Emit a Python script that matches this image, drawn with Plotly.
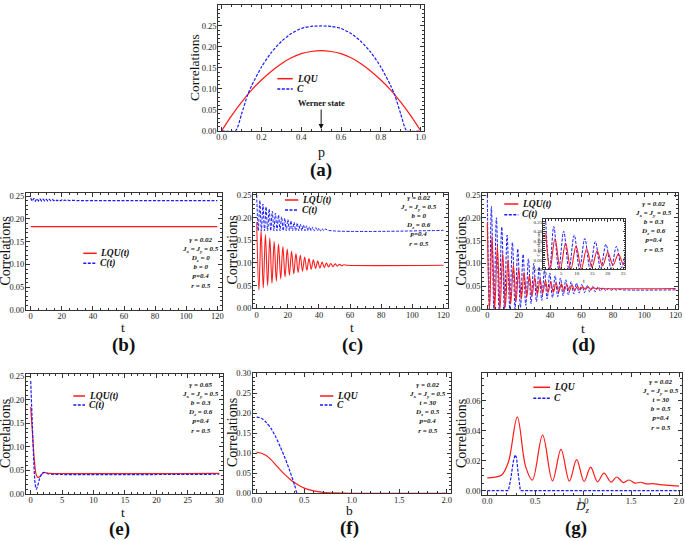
import plotly.graph_objects as go

W, H = 685, 541
SERIF = "Liberation Serif"
RED = "#ff1a1a"
BLUE = "#1a1aff"
AX = "#333333"

# ---------------- data ----------------
# (a) correlations vs p
a_p = [0.0, 0.05, 0.1, 0.15, 0.2, 0.25, 0.3, 0.35, 0.4, 0.45, 0.5,
       0.55, 0.6, 0.65, 0.7, 0.75, 0.8, 0.85, 0.9, 0.95, 1.0]
a_lqu = [0.0, 0.036, 0.068, 0.097, 0.121, 0.142, 0.160, 0.174, 0.184, 0.189, 0.191,
         0.189, 0.184, 0.174, 0.160, 0.142, 0.121, 0.097, 0.068, 0.036, 0.0]
a_c_p = [0.0, 0.07, 0.1, 0.13, 0.15, 0.2, 0.25, 0.3, 0.35, 0.4, 0.45, 0.5,
         0.55, 0.6, 0.65, 0.7, 0.75, 0.8, 0.85, 0.87, 0.9, 0.93, 1.0]
a_c = [0.0, 0.0, 0.040, 0.085, 0.107, 0.152, 0.187, 0.213, 0.232, 0.244, 0.249, 0.250,
       0.249, 0.244, 0.232, 0.213, 0.187, 0.152, 0.107, 0.085, 0.040, 0.0, 0.0]

# (b)
b_t = [0, 120]
b_lqu = [0.183, 0.183]
b_c_t = [0, 1, 2, 3, 4, 5, 6, 7, 8, 9, 10, 11, 12, 13, 14, 15, 16, 17, 18, 19, 20,
         21, 22, 23, 24, 25, 26, 27, 28, 29, 30, 31, 32, 33, 120]
b_c = [0.246, 0.239, 0.245, 0.239, 0.2445, 0.2395, 0.244, 0.2395, 0.2435, 0.2395,
       0.243, 0.2395, 0.2428, 0.2397, 0.2425, 0.2397, 0.2422, 0.2398, 0.242, 0.2398,
       0.2417, 0.2399, 0.2414, 0.2399, 0.2412, 0.240, 0.241, 0.240, 0.2407, 0.240,
       0.2405, 0.240, 0.2403, 0.240, 0.240]

# (c)
c_lqu_t = [0, 1.4, 2.8, 4.2, 5.6, 7.0, 8.4, 9.8, 11.2, 12.6, 14.0, 15.4, 16.8, 18.2,
           19.6, 21.0, 22.4, 23.8, 25.2, 26.6, 28.0, 29.4, 30.8, 32.2, 33.6, 35.0,
           36.4, 37.8, 39.2, 40.6, 42.0, 43.4, 44.8, 46.2, 47.6, 49.0, 50.4, 51.8,
           53.2, 54.6, 56.0, 58.0, 120]
c_lqu = [0.190, 0.040, 0.172, 0.045, 0.162, 0.050, 0.155, 0.055, 0.148, 0.060, 0.142,
         0.065, 0.136, 0.069, 0.131, 0.073, 0.126, 0.076, 0.121, 0.079, 0.117, 0.082,
         0.113, 0.084, 0.110, 0.086, 0.107, 0.088, 0.104, 0.089, 0.102, 0.090, 0.100,
         0.091, 0.099, 0.092, 0.098, 0.093, 0.097, 0.094, 0.096, 0.095, 0.095]
c_c_t = [0, 1, 2, 3, 4, 5, 6, 7, 8, 9, 10, 11, 12, 13, 14, 15, 16, 17, 18, 19, 20,
         21, 22, 23, 24, 25, 26, 27, 28, 29, 30, 31, 32, 33, 34, 35, 36, 37, 38, 39,
         40, 41, 42, 43, 44, 46, 120]
c_c = [0.250, 0.171, 0.238, 0.171, 0.230, 0.171, 0.224, 0.171, 0.219, 0.171, 0.214,
       0.171, 0.210, 0.171, 0.206, 0.171, 0.202, 0.171, 0.199, 0.171, 0.196, 0.171,
       0.193, 0.171, 0.190, 0.171, 0.188, 0.171, 0.186, 0.171, 0.184, 0.171, 0.182,
       0.171, 0.180, 0.171, 0.179, 0.171, 0.178, 0.171, 0.177, 0.171, 0.176, 0.171,
       0.175, 0.172, 0.172]

# (d)
d_lqu_t = [0, 1.4, 3.0, 4.7, 6.4, 8.1, 9.8, 11.5, 13.2, 14.9, 16.6, 18.3, 20.0, 21.7,
           23.4, 25.1, 26.8, 28.5, 30.2, 31.9, 33.6, 35.3, 37.0, 38.7, 40.4, 42.1,
           43.8, 45.5, 47.2, 48.9, 50.6, 52.3, 54.0, 55.7, 57.4, 59.1, 60.8, 62.5,
           64.2, 65.9, 67.6, 69.3, 71.0, 73.0, 120]
d_lqu = [0.190, 0.000, 0.160, 0.000, 0.138, 0.000, 0.122, 0.004, 0.108, 0.011, 0.097,
         0.017, 0.088, 0.022, 0.080, 0.026, 0.074, 0.029, 0.069, 0.032, 0.065, 0.034,
         0.062, 0.036, 0.059, 0.037, 0.057, 0.038, 0.055, 0.039, 0.053, 0.040, 0.052,
         0.041, 0.050, 0.042, 0.049, 0.043, 0.048, 0.043, 0.047, 0.044, 0.046, 0.045,
         0.045]
d_c_t = [0, 1.3, 2.6, 4.2, 5.8, 7.5, 9.2, 10.9, 12.6, 14.3, 16.0, 17.7, 19.4, 21.1,
         22.8, 24.5, 26.2, 27.9, 29.6, 31.3, 33.0, 34.7, 36.4, 38.1, 39.8, 41.5, 43.2,
         44.9, 46.6, 48.3, 50.0, 51.7, 53.4, 55.1, 56.8, 58.5, 60.2, 61.9, 63.6, 65.3,
         67.0, 68.7, 70.4, 72.1, 73.8, 75.5, 77.2, 78.9, 80.6, 82.3, 84.0, 86.0, 120]
d_c = [0.250, 0.000, 0.225, 0.000, 0.200, 0.000, 0.180, 0.000, 0.162, 0.000, 0.146,
       0.000, 0.132, 0.003, 0.120, 0.008, 0.110, 0.012, 0.100, 0.016, 0.092, 0.019,
       0.085, 0.022, 0.079, 0.025, 0.073, 0.027, 0.068, 0.029, 0.064, 0.031, 0.060,
       0.033, 0.057, 0.035, 0.054, 0.036, 0.052, 0.037, 0.050, 0.038, 0.048, 0.039,
       0.047, 0.040, 0.045, 0.041, 0.044, 0.0415, 0.043, 0.042, 0.042]

# (e)
e_lqu_t = [0, 0.3, 0.6, 0.9, 1.2, 1.6, 2.0, 2.5, 3.0, 30]
e_lqu = [0.185, 0.125, 0.068, 0.040, 0.035, 0.039, 0.045, 0.045, 0.044, 0.044]
e_c_t = [0, 0.25, 0.5, 0.7, 0.9, 1.1, 1.4, 1.8, 2.2, 2.7, 3.2, 30]
e_c = [0.240, 0.150, 0.065, 0.022, 0.010, 0.017, 0.032, 0.044, 0.046, 0.043, 0.042, 0.042]

# (f)
f_b = [0, 0.05, 0.1, 0.15, 0.2, 0.25, 0.3, 0.35, 0.4, 0.45, 0.5, 0.6, 0.7, 0.8, 0.9,
       1.0, 1.5, 2.0]
f_lqu = [0.102, 0.100, 0.094, 0.084, 0.071, 0.058, 0.046, 0.035, 0.026, 0.019, 0.013,
         0.006, 0.0025, 0.001, 0.0004, 0.0001, 0.0, 0.0]
f_c_b = [0, 0.05, 0.1, 0.15, 0.2, 0.25, 0.3, 0.35, 0.4, 0.43, 2.0]
f_c = [0.190, 0.187, 0.177, 0.162, 0.141, 0.115, 0.087, 0.055, 0.020, 0.0, 0.0]

# (g)
g_d = [0.0, 0.08, 0.15, 0.22, 0.313, 0.40, 0.47, 0.577, 0.68, 0.769, 0.856, 0.932,
       1.01, 1.078, 1.15, 1.217, 1.29, 1.35, 1.42, 1.478, 1.54, 1.60, 1.66, 1.725,
       1.80, 1.90, 2.0]
g_lqu = [0.0085, 0.009, 0.0105, 0.019, 0.049, 0.016, 0.007, 0.037, 0.0065, 0.0276,
         0.0063, 0.0207, 0.0061, 0.0157, 0.0059, 0.0117, 0.0057, 0.0091, 0.0054,
         0.0071, 0.0050, 0.0056, 0.0045, 0.0047, 0.0040, 0.0035, 0.003]
g_c_d = [0.0, 0.22, 0.245, 0.27, 0.29, 0.305, 0.325, 0.345, 2.0]
g_c = [0.0, 0.0, 0.008, 0.019, 0.024, 0.022, 0.010, 0.0, 0.0]

# ---------------- layout helpers ----------------
def fx(x):
    return x / W


def fy(y):
    return 1 - y / H


TF = 8.5
# key, x px domain, y px domain (top, bottom), xrange, yrange, xdtick, xminor, ydtick, yminor, xfmt, yfmt, font
panels = [
    ("a", (218.3, 424.0), (5.0, 130.7), [-0.017, 1.017], [0, 0.30], 0.2, 0.05, 0.05, 0.01, ".1f", ".2f", TF),
    ("b", (26.0, 221.7), (192.5, 310.0), [-3.0, 122.8], [0, 0.258], 20, 5, 0.05, 0.01, "d", ".2f", TF),
    ("c", (253.3, 448.3), (192.5, 308.3), [-2.2, 123.1], [0, 0.2555], 20, 5, 0.05, 0.01, "d", ".2f", TF),
    ("d", (482.3, 677.7), (192.5, 309.0), [-3.2, 121.3], [0, 0.2555], 20, 5, 0.05, 0.01, "d", ".2f", TF),
    ("e", (26.0, 222.7), (374.0, 494.0), [-0.75, 30.55], [0, 0.255], 5, 1, 0.05, 0.01, "d", ".2f", TF),
    ("f", (252.7, 450.7), (373.0, 493.3), [-0.042, 2.042], [0, 0.30], 0.5, 0.1, 0.05, 0.01, ".1f", ".2f", TF),
    ("g", (482.3, 682.3), (373.0, 495.0), [-0.052, 2.034], [-0.0029, 0.0785], 0.5, 0.1, 0.02, 0.005, ".1f", ".2f", TF),
    ("inset", (543.3, 625.0), (219.3, 269.3), [-0.77, 25.55], [0, 0.263], 5, 1, 0.05, 0.01, "d", ".2f", 5.0),
]
idx = {p[0]: i + 1 for i, p in enumerate(panels)}


def ax_ids(key):
    i = idx[key]
    return ("x" if i == 1 else f"x{i}"), ("y" if i == 1 else f"y{i}")


layout = dict(
    width=W, height=H, margin=dict(l=0, r=0, t=0, b=0, autoexpand=False),
    paper_bgcolor="white", plot_bgcolor="white", showlegend=False,
    font=dict(family=SERIF, color="#222"),
)

for key, xd, yd, xr, yr, xdt, xmn, ydt, ymn, xf, yf, fs in panels:
    i = idx[key]
    xa = "xaxis" if i == 1 else f"xaxis{i}"
    ya = "yaxis" if i == 1 else f"yaxis{i}"
    xid, yid = ax_ids(key)
    inset = key == "inset"
    tl = 4 if not inset else 2.5
    ml = 2 if not inset else 1.2
    common = dict(showline=True, mirror="allticks", linecolor=AX, linewidth=1,
                  ticks="inside", ticklen=tl, tickwidth=0.8, tickcolor=AX,
                  showgrid=False, zeroline=False, tickfont=dict(family=SERIF, size=fs, color="#222"),
                  fixedrange=True)
    layout[xa] = dict(domain=[fx(xd[0]), fx(xd[1])], range=xr, anchor=yid, dtick=xdt, tick0=0,
                      tickformat=xf, ticklabelstandoff=(-2 if not inset else -1),
                      minor=dict(ticks="inside", ticklen=ml, dtick=xmn, tick0=0, tickcolor=AX, tickwidth=0.6),
                      **common)
    layout[ya] = dict(domain=[fy(yd[1]), fy(yd[0])], range=yr, anchor=xid, dtick=ydt, tick0=0,
                      tickformat=yf, ticklabelstandoff=-1,
                      minor=dict(ticks="inside", ticklen=ml, dtick=ymn, tick0=0, tickcolor=AX, tickwidth=0.6),
                      **common)

fig = go.Figure()


def add(key, x, y, color, dash=None, shape="spline", smooth=1.0, width=1.2):
    xid, yid = ax_ids(key)
    line = dict(color=color, width=width, shape=shape)
    if shape == "spline":
        line["smoothing"] = smooth
    if dash:
        line["dash"] = dash
    fig.add_trace(go.Scatter(x=x, y=y, mode="lines", line=line, xaxis=xid, yaxis=yid,
                             hoverinfo="skip", cliponaxis=True))


DASH = "3px,1.5px"
add("a", a_p, a_lqu, RED)
add("a", a_c_p, a_c, BLUE, DASH, smooth=0.6)
add("b", b_t, b_lqu, RED, shape="linear")
add("b", b_c_t, b_c, BLUE, DASH, shape="linear")
add("c", c_lqu_t, c_lqu, RED, smooth=1.0, width=1.1)
add("c", c_c_t, c_c, BLUE, DASH, smooth=1.0, width=1.0)
add("d", d_c_t, d_c, BLUE, DASH, smooth=1.0, width=1.0)
add("d", d_lqu_t, d_lqu, RED, smooth=1.0, width=1.1)
add("e", e_lqu_t, e_lqu, RED, smooth=0.8)
add("e", e_c_t, e_c, BLUE, DASH, smooth=0.8)
add("f", f_b, f_lqu, RED, smooth=0.9)
add("f", f_c_b, f_c, BLUE, DASH, smooth=0.6)
add("g", g_d, g_lqu, RED, smooth=1.0)
add("g", g_c_d, g_c, BLUE, DASH, shape="linear")
# inset: same (d) data, zoomed
add("inset", d_c_t, d_c, BLUE, DASH, smooth=1.0, width=1.0)
add("inset", d_lqu_t, d_lqu, RED, smooth=1.0, width=1.1)

shapes = []
annotations = []

# white background for inset (drawn in the inset subplot's own layer)
ins = panels[-1]
shapes.append(dict(type="rect", xref="x8", yref="y8", x0=ins[3][0], x1=ins[3][1],
                   y0=ins[4][0], y1=ins[4][1], fillcolor="white", line=dict(width=0),
                   layer="below"))


def text(x, y, s, size, xanchor="center", yanchor="middle", angle=0, color="#111"):
    annotations.append(dict(x=fx(x), y=fy(y), xref="paper", yref="paper", text=s,
                            showarrow=False, xanchor=xanchor, yanchor=yanchor,
                            textangle=angle, font=dict(family=SERIF, size=size, color=color)))


# panel labels
for s, x, y in [("(a)", 321, 170), ("(b)", 123, 345), ("(c)", 352, 345), ("(d)", 583, 345),
                ("(e)", 119, 529), ("(f)", 349, 528), ("(g)", 576, 528)]:
    text(x, y, f"<b>{s}</b>", 19)

# x titles
for s, x, y, sz in [("p", 321, 152, 14), ("t", 123, 327.5, 13.5), ("t", 352, 327, 13.5),
                    ("t", 583, 328, 13.5), ("t", 123, 512, 13.5), ("b", 349, 510.5, 13.5),
                    ("<i>D<sub>z</sub></i>", 582, 506.5, 13)]:
    text(x, y, s, sz)

# y titles
for x, y, sz in [(194.0, 68, 13.5), (4.5, 251, 14), (231.5, 250, 14), (460.5, 251, 14),
                 (5.0, 434, 14), (232.0, 433, 14), (461.0, 434, 14)]:
    text(x, y, "Correlations", sz, angle=-90)

# inset titles
text(538.5, 244, "Correlations", 5.0, angle=-90)
text(583.5, 281, "t", 6)

# Werner state arrow
annotations.append(dict(x=0.5, y=0.004, xref="x", yref="y", text="<b>Werner state</b>",
                        showarrow=True, arrowhead=2, arrowsize=1, arrowwidth=1, arrowcolor="#111",
                        ax=0, ay=-26, font=dict(family=SERIF, size=8.5, color="#111")))

# legends
legends = [
    (277.3, 292.7, 294.5, 78.7, 89.0, "LQU", "C", 9.5),
    (83.3, 96.7, 98.0, 253.3, 263.3, "LQU(t)", "C(t)", 9.5),
    (285.0, 298.3, 300.0, 200.0, 210.0, "LQU(t)", "C(t)", 9.5),
    (504.3, 518.3, 520.0, 204.0, 214.7, "LQU(t)", "C(t)", 9.5),
    (73.3, 85.0, 86.5, 396.0, 405.0, "LQU(t)", "C(t)", 9.5),
    (320.0, 333.3, 335.0, 396.0, 405.0, "LQU", "C", 9.5),
    (533.3, 550.0, 551.7, 387.3, 398.3, "LQU", "C", 9.5),
]
for x0, x1, xt, y1, y2, l1, l2, fs in legends:
    shapes.append(dict(type="line", xref="paper", yref="paper", x0=fx(x0), x1=fx(x1),
                       y0=fy(y1), y1=fy(y1), line=dict(color=RED, width=1.5)))
    shapes.append(dict(type="line", xref="paper", yref="paper", x0=fx(x0), x1=fx(x1),
                       y0=fy(y2), y1=fy(y2), line=dict(color=BLUE, width=1.5, dash="3px,1.5px")))
    text(xt, y1, f"<b><i>{l1}</i></b>", fs, xanchor="left")
    text(xt, y2, f"<b><i>{l2}</i></b>", fs, xanchor="left")

# parameter blocks
G = "<b><i>γ = {}</i></b>"
J = "<b><i>J<sub>x</sub> = J<sub>y</sub> = 0.5</i></b>"
params = [
    (180, 234, [G.format("0.02"), J, "<b><i>D<sub>z</sub> = 0</i></b>", "<b><i>b = 0</i></b>",
                "<b><i>p=0.4</i></b>", "<b><i>r = 0.5</i></b>"]),
    (398.3, 192.5, [G.format("0.02"), J, "<b><i>b = 0</i></b>", "<b><i>D<sub>z</sub> = 0.6</i></b>",
                    "<b><i>p=0.4</i></b>", "<b><i>r = 0.5</i></b>"]),
    (633.3, 197.5, [G.format("0.02"), J, "<b><i>b = 0.3</i></b>", "<b><i>D<sub>z</sub> = 0.6</i></b>",
                    "<b><i>p=0.4</i></b>", "<b><i>r = 0.5</i></b>"]),
    (180, 379, [G.format("0.65"), J, "<b><i>b = 0.3</i></b>", "<b><i>D<sub>z</sub> = 0.6</i></b>",
                "<b><i>p=0.4</i></b>", "<b><i>r = 0.5</i></b>"]),
    (406.7, 379, [G.format("0.02"), J, "<b><i>t = 30</i></b>", "<b><i>D<sub>z</sub> = 0.5</i></b>",
                  "<b><i>p=0.4</i></b>", "<b><i>r = 0.5</i></b>"]),
    (640, 376, [G.format("0.02"), J, "<b><i>t = 30</i></b>", "<b><i>b = 0.5</i></b>",
                "<b><i>p=0.4</i></b>", "<b><i>r = 0.5</i></b>"]),
]
for x, y, lines in params:
    text(x, y, "<br>".join(lines), 7, xanchor="left", yanchor="top")

layout["shapes"] = shapes
layout["annotations"] = annotations
fig.update_layout(**layout)
fig.write_html("out.html", config={"displayModeBar": False},
               post_script="document.body.style.margin='0';document.body.style.overflow='hidden';")
